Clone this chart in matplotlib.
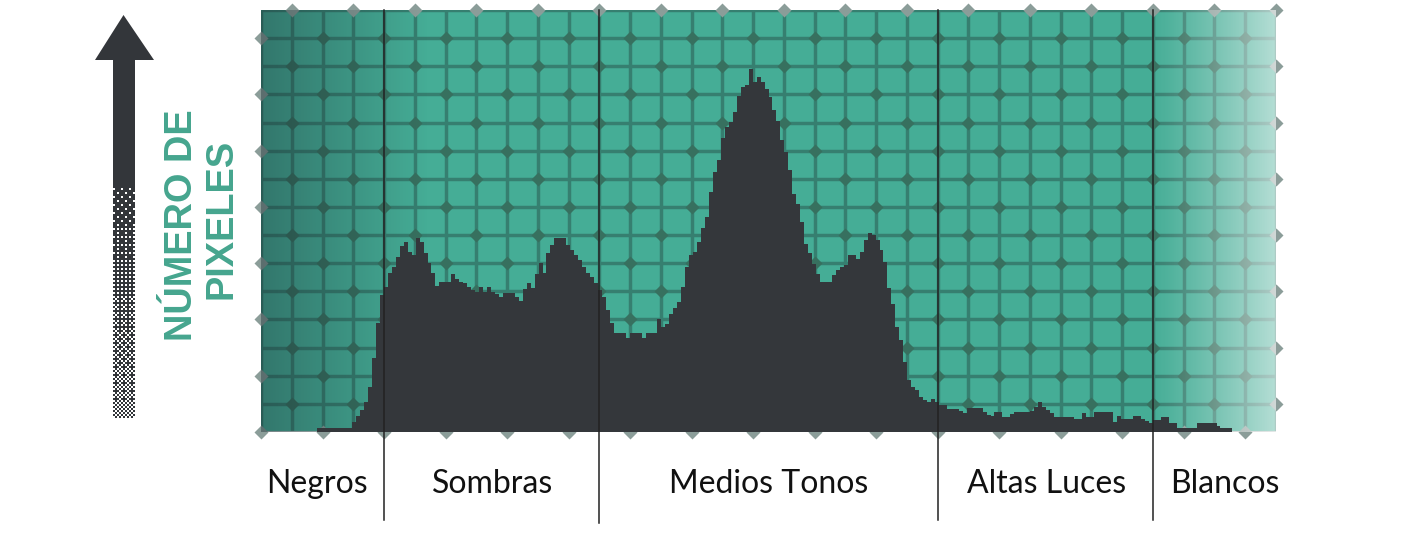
import matplotlib
matplotlib.use("Agg")
import matplotlib.pyplot as plt
from matplotlib.patches import Polygon, Rectangle
import numpy as np

# pixel counts per tone level (0-255)
counts = [
    0, 0, 0, 0, 0, 0, 0, 0, 0, 0, 0, 0, 0, 0, 4, 4,
    4, 4, 4, 4, 4, 4, 4, 10, 16, 22, 30, 45, 74, 109, 137, 145,
    159, 165, 175, 186, 190, 180, 177, 194, 190, 179, 169, 159, 146, 150, 150, 150,
    158, 153, 150, 149, 145, 142, 140, 145, 140, 145, 140, 138, 135, 139, 139, 139,
    135, 131, 143, 149, 144, 158, 169, 159, 179, 187, 194, 194, 194, 187, 182, 177,
    172, 165, 159, 155, 149, 142, 135, 122, 109, 99, 99, 99, 94, 99, 99, 99,
    94, 99, 99, 99, 113, 105, 108, 118, 124, 130, 145, 165, 177, 180, 190, 204,
    215, 240, 260, 272, 294, 305, 310, 320, 336, 345, 347, 363, 350, 355, 350, 343,
    335, 322, 311, 292, 280, 262, 238, 228, 210, 188, 179, 168, 158, 150, 150, 150,
    157, 162, 165, 167, 177, 177, 173, 180, 192, 199, 197, 192, 182, 170, 144, 128,
    105, 92, 70, 52, 45, 42, 35, 32, 30, 33, 30, 27, 27, 23, 23, 23,
    21, 19, 24, 24, 24, 24, 20, 17, 16, 20, 20, 15, 15, 18, 20, 20,
    20, 20, 21, 25, 30, 25, 22, 19, 15, 15, 15, 15, 15, 13, 13, 19,
    15, 15, 20, 20, 20, 20, 20, 10, 16, 13, 13, 13, 16, 16, 13, 11,
    9, 12, 12, 15, 15, 9, 9, 4, 4, 4, 4, 4, 9, 9, 9, 9,
    9, 6, 4, 4, 4, 0, 0, 0, 0, 0, 0, 0, 0, 0, 0, 0,
]

zones = ["Negros", "Sombras", "Medios Tonos", "Altas Luces", "Blancos"]
zone_label_x = [14, 58.3, 128.1, 198.2, 243.1]
zone_cols = [4, 11, 22, 29]      # grid columns where the zones split
n_cols, n_rows = 33, 15
y_top = 422

teal = "#45ad96"
grid_c = "#367f70"
dot_c = "#37705f"
edge_dot_c = "#8b9d99"
hist_c = "#34373b"

fig = plt.figure(figsize=(14.15, 5.4), dpi=100)
ax = fig.add_axes([261 / 1415, 108 / 540, 1015 / 1415, 422 / 540])
ax.set_xlim(0, 256)
ax.set_ylim(0, y_top)
ax.axis("off")

ax.add_patch(Rectangle((0, 0), 256, y_top, color=teal, zorder=0))

gx = np.linspace(0, 256, n_cols + 1)
gy = np.linspace(0, y_top, n_rows + 1)
ax.vlines(gx, 0, y_top, color=grid_c, lw=2.5, zorder=1)
ax.hlines(gy[1:], 0, 256, color=grid_c, lw=2.5, zorder=1)
ax.axhline(0, color="#b9c4c2", lw=1.5, zorder=1)

# diamonds on alternate grid crossings
for j in range(n_cols + 1):
    for k in range(n_rows + 1):
        if (j + k) % 2 == 1:
            edge = j in (0, n_cols) or k in (0, n_rows)
            ax.plot(gx[j], gy[n_rows - k], "D", ms=7,
                    color=edge_dot_c if edge else dot_c,
                    mec="none", zorder=2, clip_on=False)

# dark fade on the left, light fade on the right
xs = np.linspace(0, 256, 512)
rgba = np.zeros((1, xs.size, 4))
left = np.clip(1 - xs / 42, 0, 1)
right = np.clip((xs - 224) / 32, 0, 1)
rgba[0, :, :3] = np.where(left[:, None] > 0, [0.1, 0.18, 0.2], [1, 1, 1])
rgba[0, :, 3] = np.where(left > 0, 0.42 * left, 0.6 * right ** 1.2)
ax.imshow(rgba, extent=[0, 256, 0, y_top], aspect="auto", zorder=3,
          interpolation="bilinear")

ax.stairs(counts, np.arange(257), fill=True, color=hist_c, zorder=4)

for c in zone_cols:
    x = gx[c]
    bottom = -91 if c == 11 else -88
    ax.plot([x, x], [y_top, bottom], color="#222222", lw=1.1,
            zorder=5, clip_on=False)

for name, x in zip(zones, zone_label_x):
    ax.text(x, -61, name, ha="center", va="baseline", fontsize=23,
            family="Lato", color="#111111")

# left arrow and axis title, in pixel coordinates
ov = fig.add_axes([0, 0, 1, 1], zorder=-1)
ov.axis("off")

arrow_c = "#33363a"
ov.add_patch(Polygon([(95, 60), (154, 60), (123.5, 15)], closed=True,
                     color=arrow_c, lw=0))
ov.add_patch(Rectangle((113, 58), 22, 125, color=arrow_c, lw=0))

bayer = np.array([[0, 8, 2, 10], [12, 4, 14, 6],
                  [3, 11, 1, 9], [15, 7, 13, 5]]) / 16 + 1 / 32
rows, cols = 118, 11
dens = np.linspace(0.92, 0.5, rows)[:, None]
thr = np.tile(bayer, (rows // 4 + 1, cols // 4 + 1))[:rows, :cols]
dark = dens > thr
tex = np.zeros((rows, cols, 4))
tex[..., :3] = [0x33 / 255, 0x36 / 255, 0x3a / 255]
tex[..., 3] = dark
ov.imshow(tex, extent=[113, 135, 418, 182], aspect="auto",
          interpolation="nearest")
ov.set_xlim(0, 1415)
ov.set_ylim(540, 0)

ov.text(182, 225, "NÚMERO DE", rotation=90, ha="center", va="center",
        fontsize=27.4, fontweight="bold", family="Liberation Sans",
        color="#45a58e")
ov.text(221, 219, "PIXELES", rotation=90, ha="center", va="center",
        fontsize=27.4, fontweight="bold", family="Liberation Sans",
        color="#45a58e")

fig.savefig("out.png", dpi=100, facecolor="white")
